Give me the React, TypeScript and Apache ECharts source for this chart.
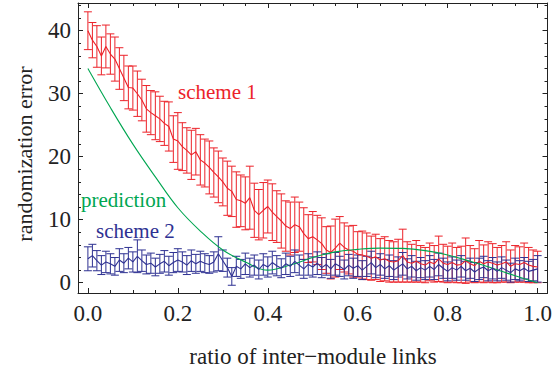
import React, { useEffect, useRef } from "react";
import * as echarts from "echarts";

const xTickLabels = [0, 0.2, 0.4, 0.6, 0.8, 1.0];
const xMinorTicks = [0.05, 0.1, 0.15, 0.25, 0.3, 0.35, 0.45, 0.5, 0.55, 0.65, 0.7, 0.75, 0.85, 0.9, 0.95];
const yTickLabels = [0, 10, 20, 30, 40];
const yMinorTicks = [2, 4, 6, 8, 12, 14, 16, 18, 22, 24, 26, 28, 32, 34, 36, 38, 42, 44];

// x values: 0.00, 0.01, ..., 1.00
const xSteps = Array.from({ length: 101 }, (_, i) => i / 100);

const scheme1Mean = [
  40.0, 38.5, 37.5, 36.0, 37.5, 36.3, 35.5, 34.0, 32.5, 31.0,
  30.9, 30.0, 29.0, 27.6, 27.0, 26.5, 26.0, 25.3, 24.8, 22.8,
  22.5, 21.6, 21.0, 20.3, 20.8, 19.5, 19.0, 18.3, 17.5, 16.8,
  16.0, 15.0, 14.5, 13.2, 13.0, 12.6, 13.5, 11.5, 10.8, 11.5,
  12.1, 11.2, 10.5, 9.8, 9.0, 8.6, 9.2, 8.9, 7.8, 7.0,
  7.3, 6.8, 6.2, 5.2, 4.8, 5.5, 6.3, 5.6, 5.2, 5.0,
  4.5, 4.4, 4.2, 3.9, 4.1, 3.6, 3.8, 3.4, 3.3, 3.5,
  4.3, 3.3, 3.1, 3.4, 3.0, 2.8, 3.3, 3.0, 3.8, 3.1,
  2.9, 3.2, 2.8, 2.9, 3.5, 3.0, 2.7, 3.4, 3.0, 3.3,
  3.1, 2.8, 3.0, 3.3, 2.6, 3.0, 2.9, 3.2, 2.8, 2.6,
  2.5,
];
const scheme1Err = [
  3.0, 2.8, 3.3, 3.0, 3.4, 3.2, 3.5, 3.3, 3.6, 3.4,
  3.5, 3.6, 3.3, 3.7, 3.5, 3.8, 3.6, 3.5, 3.9, 3.7,
  4.5, 3.8, 3.6, 3.9, 3.7, 4.0, 3.8, 4.2, 3.9, 4.1,
  3.8, 4.3, 4.0, 4.4, 4.1, 4.2, 5.0, 4.3, 4.0, 4.4,
  4.2, 4.5, 4.1, 4.3, 4.0, 4.2, 4.4, 3.9, 4.1, 3.8,
  4.0, 3.9, 4.1, 3.7, 4.2, 4.6, 4.2, 3.9, 3.8, 4.1,
  3.6, 3.8, 3.7, 3.5, 3.6, 3.4, 3.5, 3.3, 3.2, 3.4,
  4.2, 3.2, 3.0, 3.3, 2.9, 2.8, 3.0, 2.9, 3.6, 3.0,
  2.9, 3.1, 2.8, 2.9, 3.6, 2.9, 2.7, 3.3, 3.0, 3.2,
  3.1, 2.8, 2.9, 3.2, 2.6, 2.9, 2.8, 3.1, 2.8, 2.6,
  2.5,
];
const scheme2Mean = [
  3.8, 4.3, 3.5, 2.8, 3.3, 3.0, 2.6, 3.6, 3.1, 3.9,
  3.3, 4.2, 3.5, 2.9, 3.1, 2.5, 3.0, 3.4, 2.7, 3.2,
  3.6, 3.3, 2.8, 3.5, 3.0, 3.4, 3.1, 2.9, 3.3, 4.6,
  3.5, 2.4, 1.0, 2.6, 2.2, 3.0, 2.4, 2.8, 2.1, 2.9,
  2.5, 3.2, 2.7, 2.3, 3.0, 2.6, 3.4, 2.8, 2.2, 2.9,
  2.5, 3.1, 2.4, 2.9, 2.2, 3.0, 2.6, 2.1, 2.8, 2.3,
  2.7, 2.0, 2.6, 3.2, 2.4, 2.9, 2.2, 2.7, 2.0, 2.5,
  3.0, 2.2, 2.6, 1.9, 2.4, 2.0, 2.6, 2.1, 2.9, 2.3,
  1.8, 2.4, 2.0, 2.6, 1.9, 2.3, 1.7, 2.2, 2.5, 1.9,
  2.3, 1.8, 2.4, 2.0, 1.6, 2.2, 1.9, 2.3, 1.8, 2.0,
  2.2,
];
const scheme2Err = [
  1.9, 1.8, 1.6, 1.5, 1.7, 1.6, 1.4, 1.8, 1.5, 1.7,
  1.6, 2.6, 1.7, 1.5, 1.6, 1.4, 1.5, 1.7, 1.5, 1.6,
  1.8, 1.6, 1.5, 1.7, 1.5, 1.6, 1.5, 1.4, 1.6, 2.7,
  1.7, 1.5, 1.4, 1.6, 1.5, 1.7, 1.5, 1.6, 1.5, 1.7,
  1.6, 1.8, 1.6, 1.5, 1.7, 1.6, 1.8, 1.6, 1.5, 1.7,
  1.6, 1.8, 1.6, 1.7, 1.5, 1.8, 1.6, 1.5, 1.7, 1.6,
  1.7, 1.5, 1.6, 1.8, 1.6, 1.7, 1.5, 1.7, 1.5, 1.6,
  1.8, 1.6, 1.7, 1.5, 1.6, 1.5, 1.7, 1.6, 1.8, 1.6,
  1.5, 1.7, 1.6, 1.7, 1.5, 1.6, 1.5, 1.7, 1.7, 1.6,
  1.7, 1.5, 1.7, 1.6, 1.5, 1.7, 1.6, 1.7, 1.6, 1.7,
  2.1,
];

const predictionX = [0, 0.05, 0.1, 0.15, 0.2, 0.25, 0.3, 0.35, 0.4, 0.45, 0.5, 0.55, 0.6, 0.65, 0.7, 0.75, 0.8, 0.85, 0.9, 0.95, 1.0];
const predictionY = [34.0, 27.8, 22.0, 16.8, 11.9, 8.2, 5.2, 3.3, 2.0, 2.8, 4.0, 4.9, 5.3, 5.5, 5.45, 5.1, 4.4, 3.4, 2.3, 1.1, 0.0];

const RED = "#ec2229";
const BLUE = "#2e3192";
const GREEN = "#00a651";
const FONT = "Liberation Serif";
const AXIS_COLOR = "#222";

const X_MIN = -0.022;
const X_MAX = 1.022;
const Y_MIN = -1.63;
const Y_MAX = 44.4;

function errorBarSeries(name: string, mean: number[], err: number[], color: string) {
  const data = xSteps.map((x, i) => [x, mean[i] - err[i], mean[i] + err[i]]);
  return {
    name: name + " errors",
    type: "custom",
    xAxisIndex: 0,
    yAxisIndex: 0,
    encode: { x: 0, y: [1, 2] },
    data,
    renderItem: (params: any, api: any) => {
      const x = api.value(0);
      const lo = api.value(1);
      const hi = api.value(2);
      const pHi = api.coord([x, hi]);
      const pLo = api.coord([x, lo]);
      const hw = 4;
      const style = { stroke: color, lineWidth: 1, fill: "none" };
      return {
        type: "group",
        children: [
          { type: "line", shape: { x1: pHi[0], y1: pHi[1], x2: pLo[0], y2: pLo[1] }, style },
          { type: "line", shape: { x1: pHi[0] - hw, y1: pHi[1], x2: pHi[0] + hw, y2: pHi[1] }, style },
          { type: "line", shape: { x1: pLo[0] - hw, y1: pLo[1], x2: pLo[0] + hw, y2: pLo[1] }, style },
        ],
      };
    },
    silent: true,
    z: 2,
  };
}

function lineSeries(name: string, xs: number[], ys: number[], color: string, smooth: boolean | number, z: number) {
  return {
    name,
    type: "line",
    xAxisIndex: 0,
    yAxisIndex: 0,
    data: xs.map((x, i) => [x, ys[i]]),
    showSymbol: false,
    symbol: "none",
    smooth,
    lineStyle: { color, width: 1.1 },
    z,
    silent: true,
  };
}

function makeXAxis(position: "top" | "bottom", ticks: number[], len: number, labels: boolean, line: boolean) {
  return {
    type: "value",
    min: X_MIN,
    max: X_MAX,
    position,
    axisLine: { show: line, onZero: false, lineStyle: { color: AXIS_COLOR, width: 1 } },
    axisTick: { show: true, inside: true, length: len, customValues: ticks, lineStyle: { color: AXIS_COLOR, width: 1 } },
    axisLabel: labels
      ? {
          show: true,
          customValues: ticks,
          formatter: (v: number) => v.toFixed(1),
          color: "#222",
          fontFamily: FONT,
          fontSize: 23,
          margin: 9,
          hideOverlap: false,
        }
      : { show: false },
    splitLine: { show: false },
  };
}

function makeYAxis(position: "left" | "right", ticks: number[], len: number, labels: boolean, line: boolean) {
  return {
    type: "value",
    min: Y_MIN,
    max: Y_MAX,
    position,
    axisLine: { show: line, onZero: false, lineStyle: { color: AXIS_COLOR, width: 1 } },
    axisTick: { show: true, inside: true, length: len, customValues: ticks, lineStyle: { color: AXIS_COLOR, width: 1 } },
    axisLabel: labels
      ? {
          show: true,
          customValues: ticks,
          formatter: (v: number) => String(v),
          color: "#222",
          fontFamily: FONT,
          fontSize: 23,
          margin: 7,
        }
      : { show: false },
    splitLine: { show: false },
  };
}

export default function App() {
  const ref = useRef<HTMLDivElement>(null);
  useEffect(() => {
    if (!ref.current) return;
    const chart = echarts.init(ref.current, null, { renderer: "svg" });
    chart.setOption({
      animation: false,
      backgroundColor: "#fff",
      grid: { left: 78, right: 5, top: 3, bottom: 77, containLabel: false },
      xAxis: [
        makeXAxis("bottom", xTickLabels, 5, true, true),
        makeXAxis("bottom", xMinorTicks, 3, false, false),
        makeXAxis("top", xTickLabels, 5, false, true),
        makeXAxis("top", xMinorTicks, 3, false, false),
      ],
      yAxis: [
        makeYAxis("left", yTickLabels, 5, true, true),
        makeYAxis("left", yMinorTicks, 3, false, false),
        makeYAxis("right", yTickLabels, 5, false, true),
        makeYAxis("right", yMinorTicks, 3, false, false),
      ],
      series: [
        errorBarSeries("scheme 1", scheme1Mean, scheme1Err, RED),
        lineSeries("scheme 1", xSteps, scheme1Mean, RED, false, 3),
        lineSeries("prediction", predictionX, predictionY, GREEN, 0.4, 4),
        errorBarSeries("scheme 2", scheme2Mean, scheme2Err, BLUE),
        lineSeries("scheme 2", xSteps, scheme2Mean, BLUE, false, 5),
      ],
      graphic: [
        { type: "text", x: 178, y: 92, style: { text: "scheme 1", fill: RED, font: "21px " + FONT, verticalAlign: "middle" } },
        { type: "text", x: 81, y: 200, style: { text: "prediction", fill: GREEN, font: "21px " + FONT, verticalAlign: "middle" } },
        { type: "text", x: 96, y: 231, style: { text: "scheme 2", fill: BLUE, font: "21px " + FONT, verticalAlign: "middle" } },
        {
          type: "text",
          x: 313,
          y: 356,
          style: { text: "ratio of inter\u2212module links", fill: "#222", font: "23px " + FONT, align: "center", verticalAlign: "middle" },
        },
        {
          type: "text",
          x: 24,
          y: 154,
          rotation: Math.PI / 2,
          style: {
            text: "randomization error",
            fill: "#222",
            font: "22px " + FONT,
            align: "center",
            verticalAlign: "middle",
          },
        },
      ],
    });
    return () => chart.dispose();
  }, []);
  return <div ref={ref} style={{ position: "fixed", left: 0, top: 0, width: 555, height: 370 }} />;
}
